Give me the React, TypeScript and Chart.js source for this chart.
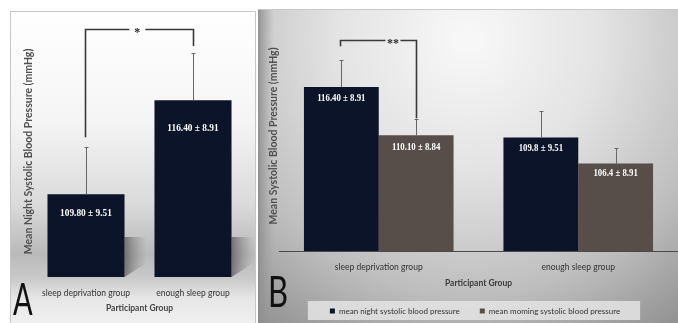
import React, { useEffect, useRef } from 'react';
import { Chart, registerables } from 'chart.js';

Chart.register(...registerables);

// ---------------- data ----------------
const categories = ['sleep deprivation group', 'enough sleep group'];

// Panel A
const nightA = [109.8, 116.4];
const errUpA = [3.3, 3.3];
const valueLabelsA = ['109.80 ± 9.51', '116.40 ± 8.91'];
const yRangeA = [104, 121.6];
const bracketA = { leftEnd: 113.8, top: 121.4, rightEnd: 120.2, mark: '*' };

// Panel B
const seriesNames = ['mean night systolic blood pressure', 'mean moming systolic blood pressure'];
const nightB = [116.4, 109.8];
const morningB = [110.1, 106.4];
const errUpNightB = [3.5, 3.4];
const errUpMorningB = [2.1, 2.0];
const valueLabelsNightB = ['116.40 ± 8.91', '109.8 ± 9.51'];
const valueLabelsMorningB = ['110.10 ± 8.84', '106.4 ± 8.91'];
const yRangeB = [95, 125];
const bracketB = { leftEnd: 121.7, top: 122.5, rightEnd: 112.3, mark: '**' };

// ---------------- styles ----------------
const FONT = 'Lato, "Open Sans", sans-serif';
const SERIF = '"Liberation Serif", "DejaVu Serif", serif';
const NAVY = '#0b1429';
const GRAY = '#574d49';

function drawErrorBars(chart: any, dsIndex: number, errs: number[]) {
  const { ctx } = chart;
  const meta = chart.getDatasetMeta(dsIndex);
  const yScale = chart.scales.y;
  const values = chart.data.datasets[dsIndex].data as number[];
  ctx.save();
  ctx.strokeStyle = '#666666';
  ctx.lineWidth = 1;
  meta.data.forEach((el: any, i: number) => {
    const x = Math.round(el.x) + 0.5;
    const yTop = Math.round(yScale.getPixelForValue(values[i] + errs[i])) + 0.5;
    ctx.beginPath();
    ctx.moveTo(x, el.y);
    ctx.lineTo(x, yTop);
    ctx.moveTo(x - 2, yTop);
    ctx.lineTo(x + 2, yTop);
    ctx.stroke();
  });
  ctx.restore();
}

function drawValueLabels(chart: any, dsIndex: number, labels: string[], offsets: number[], sx: number) {
  const { ctx } = chart;
  const meta = chart.getDatasetMeta(dsIndex);
  ctx.save();
  ctx.fillStyle = '#ffffff';
  ctx.font = `bold 11px ${SERIF}`;
  ctx.textBaseline = 'middle';
  ctx.textAlign = 'center';
  meta.data.forEach((el: any, i: number) => {
    ctx.save();
    ctx.translate(el.x, el.y + offsets[i]);
    ctx.scale(sx, 1);
    ctx.fillText(labels[i], 0, 0);
    ctx.restore();
  });
  ctx.restore();
}

function drawBracket(
  chart: any,
  left: { ds: number; i: number },
  right: { ds: number; i: number },
  b: { leftEnd: number; top: number; rightEnd: number; mark: string },
  markAt: number,
  gap: number
) {
  const { ctx } = chart;
  const yScale = chart.scales.y;
  const xL = Math.round(chart.getDatasetMeta(left.ds).data[left.i].x) - 1 + 0.5;
  const xR = Math.round(chart.getDatasetMeta(right.ds).data[right.i].x) + 0.5;
  const yTop = Math.round(yScale.getPixelForValue(b.top)) + 0.5;
  const yL = yScale.getPixelForValue(b.leftEnd);
  const yR = yScale.getPixelForValue(b.rightEnd);
  const xm = xL + (xR - xL) * markAt;
  ctx.save();
  ctx.strokeStyle = '#3a3a3a';
  ctx.lineWidth = 1.6;
  ctx.beginPath();
  ctx.moveTo(xL, yL);
  ctx.lineTo(xL, yTop);
  ctx.lineTo(xm - gap, yTop);
  ctx.moveTo(xm + gap, yTop);
  ctx.lineTo(xR, yTop);
  ctx.lineTo(xR, yR);
  ctx.stroke();
  ctx.fillStyle = '#2a2a2a';
  ctx.font = `bold 12px ${SERIF}`;
  ctx.textAlign = 'center';
  ctx.textBaseline = 'middle';
  ctx.fillText(b.mark, xm, yTop + 3);
  ctx.restore();
}

function drawLetter(ctx: CanvasRenderingContext2D, text: string, x: number, baseline: number, size: number, sx: number) {
  ctx.save();
  ctx.fillStyle = '#111111';
  ctx.font = `${size}px ${FONT}`;
  ctx.textAlign = 'left';
  ctx.textBaseline = 'alphabetic';
  ctx.translate(x, baseline);
  ctx.scale(sx, 1);
  ctx.fillText(text, 0, 0);
  ctx.restore();
}

const panelAPlugin = {
  id: 'panelA',
  beforeDraw(chart: any) {
    const { ctx, width, height } = chart;
    ctx.save();
    const g = ctx.createLinearGradient(0, 0, 0, height);
    g.addColorStop(0, '#ffffff');
    g.addColorStop(0.35, '#f5f5f5');
    g.addColorStop(0.62, '#dadada');
    g.addColorStop(0.78, '#b9b9b9');
    g.addColorStop(0.86, '#cacaca');
    g.addColorStop(0.92, '#e6e6e6');
    g.addColorStop(1, '#f0f0f0');
    ctx.fillStyle = g;
    ctx.fillRect(0, 0, width, height);
    ctx.strokeStyle = '#c6c6c6';
    ctx.lineWidth = 1;
    ctx.strokeRect(0.5, 0.5, width - 1, height + 5);
    ctx.restore();
  },
  beforeDatasetsDraw(chart: any) {
    const { ctx, chartArea } = chart;
    const bottom = chartArea.bottom;
    const meta = chart.getDatasetMeta(0);
    ctx.save();
    meta.data.forEach((el: any) => {
      const r = el.x + el.width / 2;
      const g = ctx.createLinearGradient(r, 0, r + 22, 0);
      g.addColorStop(0, 'rgba(60,60,60,0.6)');
      g.addColorStop(1, 'rgba(120,120,120,0)');
      ctx.fillStyle = g;
      ctx.beginPath();
      ctx.moveTo(r, bottom - 40);
      ctx.lineTo(r + 22, bottom - 40);
      ctx.lineTo(r + 22, bottom - 14);
      ctx.lineTo(r, bottom);
      ctx.closePath();
      ctx.fill();
    });
    ctx.restore();
  },
  afterDatasetsDraw(chart: any) {
    drawErrorBars(chart, 0, errUpA);
    drawValueLabels(chart, 0, valueLabelsA, [19, 28], 0.85);
    drawBracket(chart, { ds: 0, i: 0 }, { ds: 0, i: 1 }, bracketA, 0.48, 8);
    drawLetter(chart.ctx, 'A', 3, 304, 44, 0.66);
  },
};

const panelBPlugin = {
  id: 'panelB',
  beforeDraw(chart: any) {
    const { ctx, width, height } = chart;
    ctx.save();
    const g = ctx.createRadialGradient(210, 30, 10, 210, 30, 360);
    g.addColorStop(0, '#f7f7f7');
    g.addColorStop(0.35, '#e3e3e3');
    g.addColorStop(0.7, '#bebebe');
    g.addColorStop(1, '#8e8e8e');
    ctx.fillStyle = g;
    ctx.fillRect(0, 0, width, height);
    const gl = ctx.createLinearGradient(0, 0, 16, 0);
    gl.addColorStop(0, 'rgba(140,140,140,0.9)');
    gl.addColorStop(1, 'rgba(160,160,160,0)');
    ctx.fillStyle = gl;
    ctx.fillRect(0, 0, 16, height);
    ctx.strokeStyle = '#c8c8c8';
    ctx.lineWidth = 1;
    ctx.beginPath();
    ctx.moveTo(0, 0.5);
    ctx.lineTo(width, 0.5);
    ctx.stroke();
    const hb = chart.legend && chart.legend.legendHitBoxes;
    if (hb && hb.length) {
      const last = hb[hb.length - 1];
      const x0 = hb[0].left - 22;
      const x1 = last.left + last.width + 20;
      const cy = hb[0].top + hb[0].height / 2;
      ctx.fillStyle = 'rgba(228,228,228,0.85)';
      ctx.fillRect(x0, cy - 10, x1 - x0, 19);
    }
    ctx.restore();
  },
  afterDatasetsDraw(chart: any) {
    drawErrorBars(chart, 0, errUpNightB);
    drawErrorBars(chart, 1, errUpMorningB);
    drawValueLabels(chart, 0, valueLabelsNightB, [11, 11], 0.8);
    drawValueLabels(chart, 1, valueLabelsMorningB, [12, 10], 0.8);
    drawBracket(chart, { ds: 0, i: 0 }, { ds: 1, i: 0 }, bracketB, 0.69, 7.5);
    drawLetter(chart.ctx, 'B', 10, 298, 43, 0.72);
  },
};

function makeConfigA(): any {
  return {
    type: 'bar',
    data: {
      labels: categories,
      datasets: [
        {
          label: seriesNames[0],
          data: nightA,
          backgroundColor: NAVY,
          categoryPercentage: 0.72,
          barPercentage: 1,
        },
      ],
    },
    options: {
      responsive: false,
      maintainAspectRatio: false,
      animation: false,
      devicePixelRatio: 1,
      events: [],
      layout: { padding: { left: 0, right: 9.5, top: 15, bottom: 0 } },
      plugins: { legend: { display: false }, tooltip: { enabled: false } },
      scales: {
        x: {
          grid: { display: false, drawTicks: false },
          border: { display: false },
          ticks: {
            font: { family: FONT, size: 8.5 },
            color: '#333333',
            padding: 11,
            maxRotation: 0,
            autoSkip: false,
          },
          title: {
            display: true,
            text: 'Participant Group',
            font: { family: FONT, size: 8.5, weight: 'bold' },
            color: '#444444',
            padding: { top: -6.3, bottom: 9.9 },
          },
        },
        y: {
          min: yRangeA[0],
          max: yRangeA[1],
          grid: { display: false, drawTicks: false },
          border: { display: false },
          ticks: { display: false },
          title: {
            display: true,
            text: 'Mean Night Systolic Blood Pressure (mmHg)',
            font: { family: FONT, size: 10.5, weight: 'bold', lineHeight: 0.8 },
            color: '#505050',
            padding: { top: 14.8, bottom: -0.7 },
          },
        },
      },
    },
    plugins: [panelAPlugin],
  };
}

function makeConfigB(): any {
  return {
    type: 'bar',
    data: {
      labels: categories,
      datasets: [
        {
          label: seriesNames[0],
          data: nightB,
          backgroundColor: NAVY,
          categoryPercentage: 0.75,
          barPercentage: 1,
        },
        {
          label: seriesNames[1],
          data: morningB,
          backgroundColor: GRAY,
          categoryPercentage: 0.75,
          barPercentage: 1,
        },
      ],
    },
    options: {
      responsive: false,
      maintainAspectRatio: false,
      animation: false,
      devicePixelRatio: 1,
      events: [],
      layout: { padding: { left: 14, right: 0, top: 12, bottom: 4 } },
      plugins: {
        tooltip: { enabled: false },
        legend: {
          position: 'bottom',
          labels: {
            boxWidth: 5,
            boxHeight: 5,
            padding: 20,
            color: '#333333',
            font: { family: FONT, size: 8 },
          },
        },
      },
      scales: {
        x: {
          grid: { display: false, drawTicks: false },
          border: { display: true, color: '#4a4a4a', width: 1 },
          ticks: {
            font: { family: FONT, size: 8.5 },
            color: '#333333',
            padding: 11,
            maxRotation: 0,
            autoSkip: false,
          },
          title: {
            display: true,
            text: 'Participant Group',
            font: { family: FONT, size: 8.5, weight: 'bold' },
            color: '#3a3a3a',
            padding: { top: -5.3, bottom: -1.1 },
          },
        },
        y: {
          min: yRangeB[0],
          max: yRangeB[1],
          grid: { display: false, drawTicks: false },
          border: { display: false },
          ticks: { display: false },
          title: {
            display: true,
            text: 'Mean Systolic Blood Pressure (mmHg)',
            font: { family: FONT, size: 10.5, weight: 'bold', lineHeight: 0.4 },
            color: '#505050',
            padding: { top: -0.1, bottom: 2.9 },
          },
        },
      },
    },
    plugins: [panelBPlugin],
  };
}

export default function App() {
  const refA = useRef<HTMLCanvasElement>(null);
  const refB = useRef<HTMLCanvasElement>(null);

  useEffect(() => {
    const a = new Chart(refA.current as HTMLCanvasElement, makeConfigA());
    const b = new Chart(refB.current as HTMLCanvasElement, makeConfigB());
    return () => {
      a.destroy();
      b.destroy();
    };
  }, []);

  return (
    <div
      style={{
        position: 'fixed',
        left: 0,
        top: 0,
        width: 678,
        height: 323,
        overflow: 'hidden',
        background: '#ffffff',
      }}
    >
      <canvas
        ref={refA}
        width={246}
        height={312}
        style={{ position: 'absolute', left: 10, top: 11, width: 246, height: 312 }}
      />
      <canvas
        ref={refB}
        width={420}
        height={320}
        style={{ position: 'absolute', left: 258, top: 9, width: 420, height: 320 }}
      />
    </div>
  );
}
